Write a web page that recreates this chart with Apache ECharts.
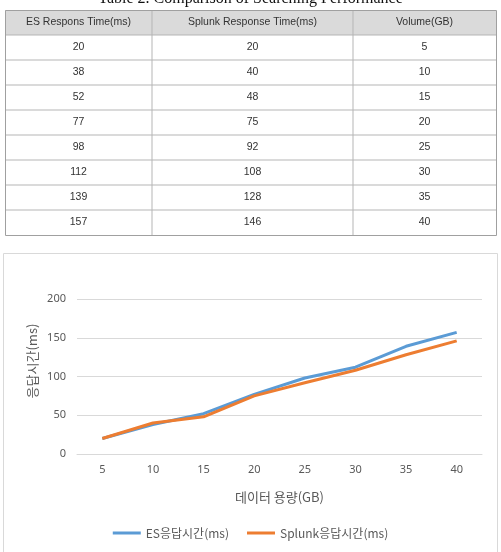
<!DOCTYPE html>
<html>
<head>
<meta charset="utf-8">
<script src="https://cdn.jsdelivr.net/npm/echarts@6/dist/echarts.min.js"></script>
<style>html,body{margin:0;padding:0;background:#fff;}#c{width:501px;height:552px;}</style>
</head>
<body>
<div id="c"></div>
<script>
var caption = 'Table 2. Comparison of Searching Performance';
var tableHeaders = ['ES Respons Time(ms)', 'Splunk Response Time(ms)', 'Volume(GB)'];
var volumes = ['5', '10', '15', '20', '25', '30', '35', '40'];
var esTimes = [20, 38, 52, 77, 98, 112, 139, 157];
var splunkTimes = [20, 40, 48, 75, 92, 108, 128, 146];
var seriesNames = ['ES응답시간(ms)', 'Splunk응답시간(ms)'];
var xAxisTitle = '데이터 용량(GB)';
var yAxisTitle = '응답시간(ms)';

var chart = echarts.init(document.getElementById('c'), null, {renderer: 'canvas'});

// table layout
var tTop = 10, rowH = 25;
var colX = [5, 152, 353, 496];
var tableCols = [esTimes, splunkTimes, volumes];
var nRows = volumes.length;
var tBottom = tTop + rowH * (nRows + 1);
var graphics = [];
var tableFont = '10.5px "Liberation Sans"';
graphics.push({type: 'text', left: 'center', top: -9, style: {text: caption, font: '16px "Liberation Serif"', fill: '#111'}});
graphics.push({type: 'rect', shape: {x: colX[0], y: tTop, width: colX[3] - colX[0], height: rowH}, style: {fill: '#dadada'}});
for (var r = 1; r <= nRows; r++) {
  graphics.push({type: 'line', shape: {x1: colX[0], y1: tTop + rowH * r, x2: colX[3], y2: tTop + rowH * r}, style: {stroke: '#b5b5b5', lineWidth: 1}});
}
for (var c = 1; c < 3; c++) {
  graphics.push({type: 'line', shape: {x1: colX[c], y1: tTop, x2: colX[c], y2: tBottom}, style: {stroke: '#b5b5b5', lineWidth: 1}});
}
graphics.push({type: 'rect', shape: {x: colX[0] + 0.5, y: tTop + 0.5, width: colX[3] - colX[0], height: tBottom - tTop}, style: {fill: 'none', stroke: '#a0a0a0', lineWidth: 1}});
for (var c2 = 0; c2 < 3; c2++) {
  var cx = (colX[c2] + colX[c2 + 1]) / 2;
  graphics.push({type: 'text', x: cx, y: tTop + rowH / 2, style: {text: tableHeaders[c2], font: tableFont, fill: '#333', align: 'center', verticalAlign: 'middle'}});
  for (var r2 = 0; r2 < nRows; r2++) {
    graphics.push({type: 'text', x: cx, y: tTop + rowH * (r2 + 1) + rowH / 2, style: {text: String(tableCols[c2][r2]), font: tableFont, fill: '#333', align: 'center', verticalAlign: 'middle'}});
  }
}
// chart box
graphics.push({type: 'rect', shape: {x: 3.5, y: 253.5, width: 494, height: 320}, style: {fill: 'none', stroke: '#d9d9d9', lineWidth: 1}});
// y axis title
graphics.push({type: 'text', x: 32, y: 361, rotation: Math.PI / 2, style: {text: yAxisTitle, font: '13px "Noto Sans CJK KR"', fill: '#595959', align: 'center', verticalAlign: 'middle'}});

chart.setOption({
  animation: false,
  color: ['#5B9BD5', '#ED7D31'],
  graphic: graphics,
  grid: {left: 77, right: 19, top: 299, bottom: 98, containLabel: false},
  legend: {
    data: seriesNames,
    bottom: 8,
    left: 'center',
    icon: 'rect',
    itemWidth: 28,
    itemHeight: 3,
    itemGap: 18,
    textStyle: {color: '#595959', fontSize: 12, fontFamily: '"Noto Sans CJK KR"'}
  },
  xAxis: {
    type: 'category',
    data: volumes,
    boundaryGap: true,
    name: xAxisTitle,
    nameLocation: 'middle',
    nameGap: 37,
    nameTextStyle: {color: '#595959', fontSize: 13, fontFamily: '"Noto Sans CJK KR"'},
    axisTick: {show: false},
    axisLine: {lineStyle: {color: '#d9d9d9'}},
    axisLabel: {color: '#595959', fontSize: 11, margin: 10, fontFamily: '"Noto Sans"'}
  },
  yAxis: {
    type: 'value',
    min: 0, max: 200, interval: 50,
    axisLine: {show: false},
    axisTick: {show: false},
    splitLine: {lineStyle: {color: '#d9d9d9'}},
    axisLabel: {color: '#595959', fontSize: 11, margin: 11, fontFamily: '"Noto Sans"'}
  },
  series: [
    {name: seriesNames[0], type: 'line', data: esTimes, symbol: 'none', lineStyle: {width: 3}},
    {name: seriesNames[1], type: 'line', data: splunkTimes, symbol: 'none', lineStyle: {width: 3}}
  ]
});
</script>
</body>
</html>
